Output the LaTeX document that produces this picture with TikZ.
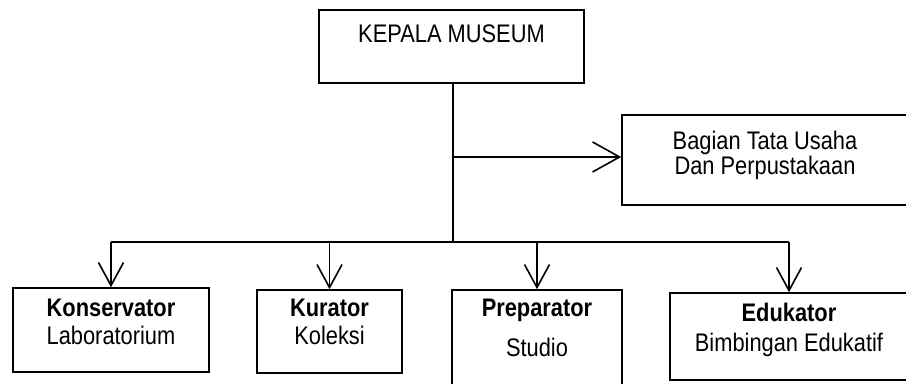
\documentclass[tikz,border=0pt]{standalone}
\usepackage{fontspec}
\setmainfont[FakeStretch=0.86]{Liberation Sans}
\usetikzlibrary{arrows.meta, positioning}

\begin{document}
\begin{tikzpicture}[
    x=0.5pt, y=-0.5pt,
    line width=0.8pt,
    >={Straight Barb[length=11.5pt, width=12.5pt, line width=0.8pt]},
    box/.style={draw, rectangle, align=center, inner sep=0pt},
    every node/.style={font=\fontsize{12.7}{14}\selectfont}
]
\useasboundingbox (0,0) rectangle (906,384);
\clip (0,0) rectangle (906,384);

% Nodes
\node[box, minimum width=132.5pt, text height=16.25pt, text depth=20.25pt]
    (kepala) at (451.5,46.5) {KEPALA MUSEUM};
\node[box, minimum width=143pt, text height=30pt, text depth=15pt]
    (tatausaha) at (765,160) {Bagian Tata Usaha\\[-1.5pt]Dan Perpustakaan};
\node[box, minimum width=98pt, text height=28.5pt, text depth=13.5pt]
    (konservator) at (111,330) {\textbf{Konservator}\\Laboratorium};
\node[box, minimum width=72.5pt, text height=27.5pt, text depth=14pt]
    (kurator) at (329.5,331.5) {\textbf{Kurator}\\Koleksi};
\node[box, minimum width=85pt, text height=33.5pt, text depth=14pt]
    (preparator) at (537,337.5) {\textbf{Preparator}\\[6pt]Studio};
\node[box, minimum width=119pt, text height=29.5pt, text depth=14pt]
    (edukator) at (789,336.5) {\textbf{Edukator}\\[1pt]Bimbingan Edukatif};

% Junctions
\coordinate (split) at (453,157);
\coordinate (bus)   at (453,242);

% Arrows
\draw (kepala.south -| split) -- (bus);
\draw[->, >={Straight Barb[length=13.5pt, width=15pt, line width=0.8pt]}]
    (split) -- (split -| tatausaha.west);
\draw (bus -| konservator.north) -- (bus -| edukator.north);
\foreach \unit in {konservator, kurator, preparator, edukator}
    \draw[->] (bus -| \unit.north) -- (\unit.north);

\end{tikzpicture}
\end{document}
